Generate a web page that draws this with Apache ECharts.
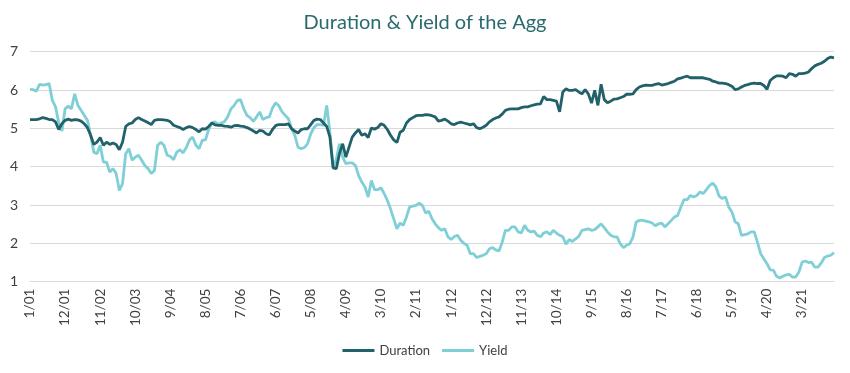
<!DOCTYPE html>
<html>
<head>
<meta charset="utf-8">
<script src="https://cdn.jsdelivr.net/npm/echarts@6/dist/echarts.min.js"></script>
<style>
html,body{margin:0;padding:0;background:#fff;}
#c{width:850px;height:373px;}
</style>
</head>
<body>
<div id="c"></div>
<script>
// Monthly observations, Jan 2001 .. Jan 2022
var startYear = 2001, startMonth = 1, monthCount = 253;
var title = "Duration & Yield of the Agg";
var seriesNames = ["Duration", "Yield"];
var yTicks = [1, 2, 3, 4, 5, 6, 7];

var duration = [
5.23,5.23,5.23,5.25,5.28,5.26,5.23,5.23,5.17,4.97,5.12,5.21,5.24,5.21,5.23,5.22,5.19,5.12,5.02,4.82,
4.58,4.64,4.76,4.56,4.64,4.58,4.62,4.58,4.44,4.64,5.05,5.12,5.14,5.23,5.28,5.23,5.19,5.15,5.10,5.21,
5.23,5.23,5.22,5.21,5.17,5.08,5.05,5.02,4.97,5.02,5.05,5.02,4.97,4.91,4.99,4.98,5.05,5.14,5.09,5.08,
5.08,5.06,5.05,5.03,5.07,5.08,5.06,5.05,5.02,4.98,4.93,4.88,4.95,4.93,4.86,4.83,4.97,5.07,5.10,5.10,
5.10,5.12,4.99,4.93,4.88,4.97,4.99,4.99,5.10,5.21,5.24,5.23,5.14,5.05,4.77,3.97,3.95,4.34,4.60,4.25,
4.51,4.77,4.88,4.97,4.82,4.86,4.76,5.01,4.98,5.02,5.12,5.08,4.97,4.82,4.70,4.63,4.90,4.95,5.14,5.23,
5.28,5.33,5.34,5.34,5.36,5.35,5.33,5.30,5.19,5.21,5.24,5.19,5.12,5.10,5.14,5.16,5.14,5.12,5.09,5.12,
5.02,4.99,5.03,5.08,5.17,5.23,5.27,5.30,5.37,5.47,5.50,5.51,5.51,5.51,5.54,5.56,5.56,5.59,5.61,5.63,
5.64,5.83,5.75,5.75,5.73,5.71,5.43,5.95,6.03,5.99,5.99,6.01,5.95,5.90,6.01,5.90,5.66,5.99,5.60,6.15,
5.75,5.67,5.71,5.76,5.77,5.80,5.83,5.89,5.89,5.90,6.01,6.08,6.11,6.13,6.12,6.12,6.15,6.17,6.13,6.15,
6.17,6.20,6.23,6.29,6.31,6.34,6.36,6.32,6.32,6.32,6.32,6.32,6.30,6.28,6.23,6.21,6.18,6.18,6.17,6.14,
6.10,6.01,6.03,6.08,6.12,6.14,6.17,6.18,6.17,6.17,6.12,6.02,6.25,6.32,6.37,6.37,6.36,6.32,6.43,6.41,
6.36,6.43,6.43,6.44,6.47,6.56,6.63,6.67,6.70,6.75,6.82,6.86,6.84
];

var yieldVals = [
6.02,6.01,5.97,6.15,6.13,6.14,6.17,5.73,5.56,5.15,4.93,5.51,5.58,5.51,5.90,5.60,5.47,5.34,5.21,4.82,
4.38,4.34,4.56,4.12,4.12,3.86,3.95,3.82,3.38,3.56,4.34,4.47,4.17,4.25,4.30,4.17,4.03,3.95,3.82,3.90,
4.56,4.64,4.56,4.30,4.27,4.18,4.38,4.44,4.36,4.50,4.70,4.77,4.56,4.47,4.69,4.70,4.97,5.14,5.17,5.10,
5.14,5.18,5.31,5.51,5.60,5.73,5.75,5.51,5.34,5.28,5.18,5.30,5.43,5.23,5.28,5.30,5.53,5.67,5.59,5.43,
5.34,5.25,4.99,4.82,4.51,4.47,4.50,4.60,4.86,5.02,5.10,5.10,5.08,5.60,4.90,4.00,4.20,4.60,4.25,4.08,
4.10,4.10,4.03,3.77,3.60,3.47,3.21,3.64,3.40,3.40,3.45,3.30,3.12,2.90,2.64,2.38,2.53,2.47,2.69,2.95,
2.97,2.99,3.05,2.99,2.79,2.84,2.64,2.51,2.41,2.34,2.38,2.17,2.10,2.18,2.21,2.08,2.00,1.95,1.73,1.73,
1.63,1.66,1.69,1.73,1.86,1.89,1.83,1.80,2.03,2.34,2.34,2.43,2.43,2.30,2.27,2.47,2.34,2.30,2.32,2.21,
2.17,2.27,2.30,2.23,2.34,2.27,2.21,2.17,1.98,2.10,2.05,2.12,2.18,2.34,2.36,2.38,2.34,2.36,2.43,2.51,
2.41,2.30,2.21,2.17,2.17,1.99,1.89,1.95,1.99,2.17,2.56,2.60,2.60,2.58,2.56,2.53,2.46,2.51,2.53,2.43,
2.51,2.60,2.69,2.73,2.95,3.14,3.14,3.25,3.21,3.25,3.34,3.30,3.40,3.51,3.57,3.47,3.23,3.17,3.21,2.95,
2.82,2.56,2.51,2.21,2.23,2.25,2.30,2.30,2.03,1.73,1.60,1.47,1.31,1.30,1.14,1.10,1.14,1.18,1.19,1.12,
1.12,1.25,1.51,1.54,1.50,1.51,1.38,1.38,1.49,1.63,1.67,1.69,1.76
];

var categories = [];
for (var k = 0; k < monthCount; k++) {
  var m = (startMonth - 1 + k) % 12 + 1;
  var y = startYear + Math.floor((startMonth - 1 + k) / 12);
  categories.push(m + "/" + String(y % 100).padStart(2, "0"));
}

var FONT = "Lato, 'Noto Sans', sans-serif";
var chart = echarts.init(document.getElementById("c"), null, {renderer: "canvas"});
chart.setOption({
  animation: false,
  backgroundColor: "#ffffff",
  title: {
    text: title, left: "center", top: 8,
    textStyle: {color: "#2a6a6f", fontSize: 20, fontWeight: "normal", fontFamily: FONT}
  },
  legend: {
    data: seriesNames, bottom: 11, left: "center", itemWidth: 32, itemHeight: 3, itemGap: 12,
    icon: "rect",
    textStyle: {color: "#404040", fontSize: 13, fontFamily: FONT}
  },
  grid: {left: 30, right: 16, top: 51.7, bottom: 91.3, containLabel: false},
  xAxis: {
    type: "category", data: categories, boundaryGap: false,
    axisLine: {show: true, lineStyle: {color: "#d9d9d9", width: 1}},
    axisTick: {show: false},
    axisLabel: {rotate: 90, interval: 10, color: "#404040", fontSize: 13.5, margin: 7, fontFamily: FONT},
    splitLine: {show: false}
  },
  yAxis: {
    type: "value", min: 1, max: 7, interval: 1,
    axisLine: {show: false}, axisTick: {show: false},
    axisLabel: {color: "#404040", fontSize: 14, margin: 16, fontFamily: FONT, align: "center"},
    splitLine: {show: true, lineStyle: {color: "#d9d9d9", width: 1}}
  },
  series: [
    {name: seriesNames[0], type: "line", data: duration, showSymbol: false, symbol: "none",
     lineStyle: {color: "#21626a", width: 2.8}, itemStyle: {color: "#21626a"}, z: 3},
    {name: seriesNames[1], type: "line", data: yieldVals, showSymbol: false, symbol: "none",
     lineStyle: {color: "#7fcfd6", width: 2.8}, itemStyle: {color: "#7fcfd6"}, z: 2}
  ]
});
</script>
</body>
</html>
